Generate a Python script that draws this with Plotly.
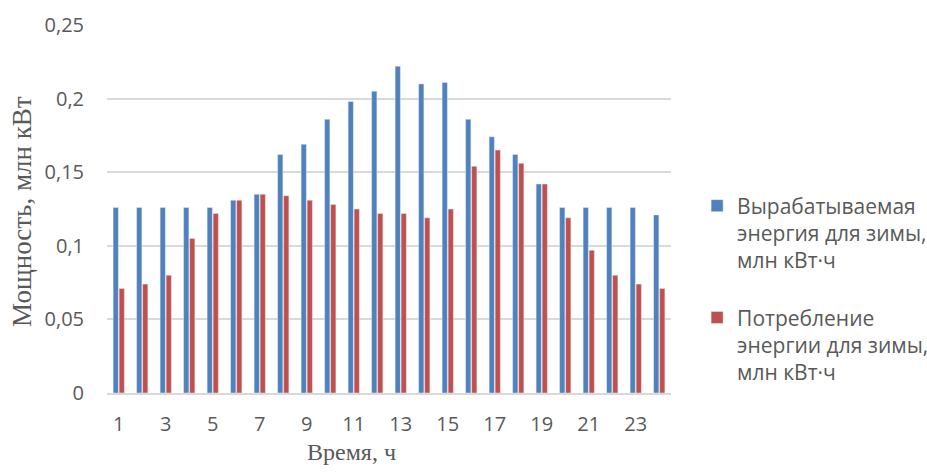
import plotly.graph_objects as go

# Hours of the day
hours = list(range(1, 25))

# Generated energy, winter (mln kWh)
generated = [0.126, 0.126, 0.126, 0.126, 0.126, 0.131, 0.135, 0.162, 0.169, 0.186,
             0.198, 0.205, 0.222, 0.210, 0.211, 0.186, 0.174, 0.162, 0.142, 0.126,
             0.126, 0.126, 0.126, 0.121]

# Consumed energy, winter (mln kWh)
consumed = [0.071, 0.074, 0.080, 0.105, 0.122, 0.131, 0.135, 0.134, 0.131, 0.128,
            0.125, 0.122, 0.122, 0.119, 0.125, 0.154, 0.165, 0.156, 0.142, 0.119,
            0.097, 0.080, 0.074, 0.071]

x_ticks = [1, 3, 5, 7, 9, 11, 13, 15, 17, 19, 21, 23]
y_ticks = [0, 0.05, 0.1, 0.15, 0.2, 0.25]
y_tick_text = ["0", "0,05", "0,1", "0,15", "0,2", "0,25"]

name_gen = "Вырабатываемая<br>энергия для зимы,<br>млн кВт·ч"
name_con = "Потребление<br>энергии для зимы,<br>млн кВт·ч"

BLUE = "#4F81BD"
RED = "#C0504D"
TEXT = "#595959"
GRID = "#D9D9D9"
FONT = "Open Sans"

fig = go.Figure()
fig.add_trace(go.Bar(x=hours, y=generated, name=name_gen, marker_color=BLUE,
                     legendgroup="gen"))
fig.add_trace(go.Bar(x=hours, y=consumed, name=name_con, marker_color=RED,
                     legendgroup="con"))

fig.update_layout(
    width=927, height=475,
    margin=dict(l=107, r=256, t=25, b=82, autoexpand=False),
    paper_bgcolor="white", plot_bgcolor="white",
    barmode="group", bargap=0.49, bargroupgap=0.12,
    font=dict(family=FONT, size=20, color=TEXT),
    showlegend=True,
    legend=dict(xref="container", yref="container", x=0.752, y=0.3916,
                xanchor="left", yanchor="middle",
                font=dict(family=FONT, size=21, color=TEXT),
                valign="top", tracegroupgap=27, traceorder="grouped",
                bgcolor="rgba(0,0,0,0)"),
    xaxis=dict(range=[0.5, 24.5], tickmode="array", tickvals=x_ticks,
               ticktext=[str(v) for v in x_ticks], showgrid=False,
               showline=True, linecolor=GRID, linewidth=1.5, ticks="",
               zeroline=False, ticklabelstandoff=12),
    yaxis=dict(range=[0, 0.25], tickmode="array", tickvals=y_ticks,
               ticktext=y_tick_text, showgrid=True, gridcolor=GRID,
               gridwidth=1.5, zeroline=False, ticks="", showline=False,
               ticklabelstandoff=22),
    annotations=[
        dict(text="Время, ч", xref="paper", yref="paper", x=0.434, y=-0.159,
             xanchor="center", yanchor="middle", showarrow=False,
             font=dict(family="Liberation Serif", size=24, color=TEXT)),
        dict(text="Мощность, млн кВт", xref="paper", yref="paper", x=-0.1507,
             y=0.492, xanchor="center", yanchor="middle", textangle=-90,
             showarrow=False,
             font=dict(family="Liberation Serif", size=27, color=TEXT)),
    ],
)

fig.write_html("out.html")
